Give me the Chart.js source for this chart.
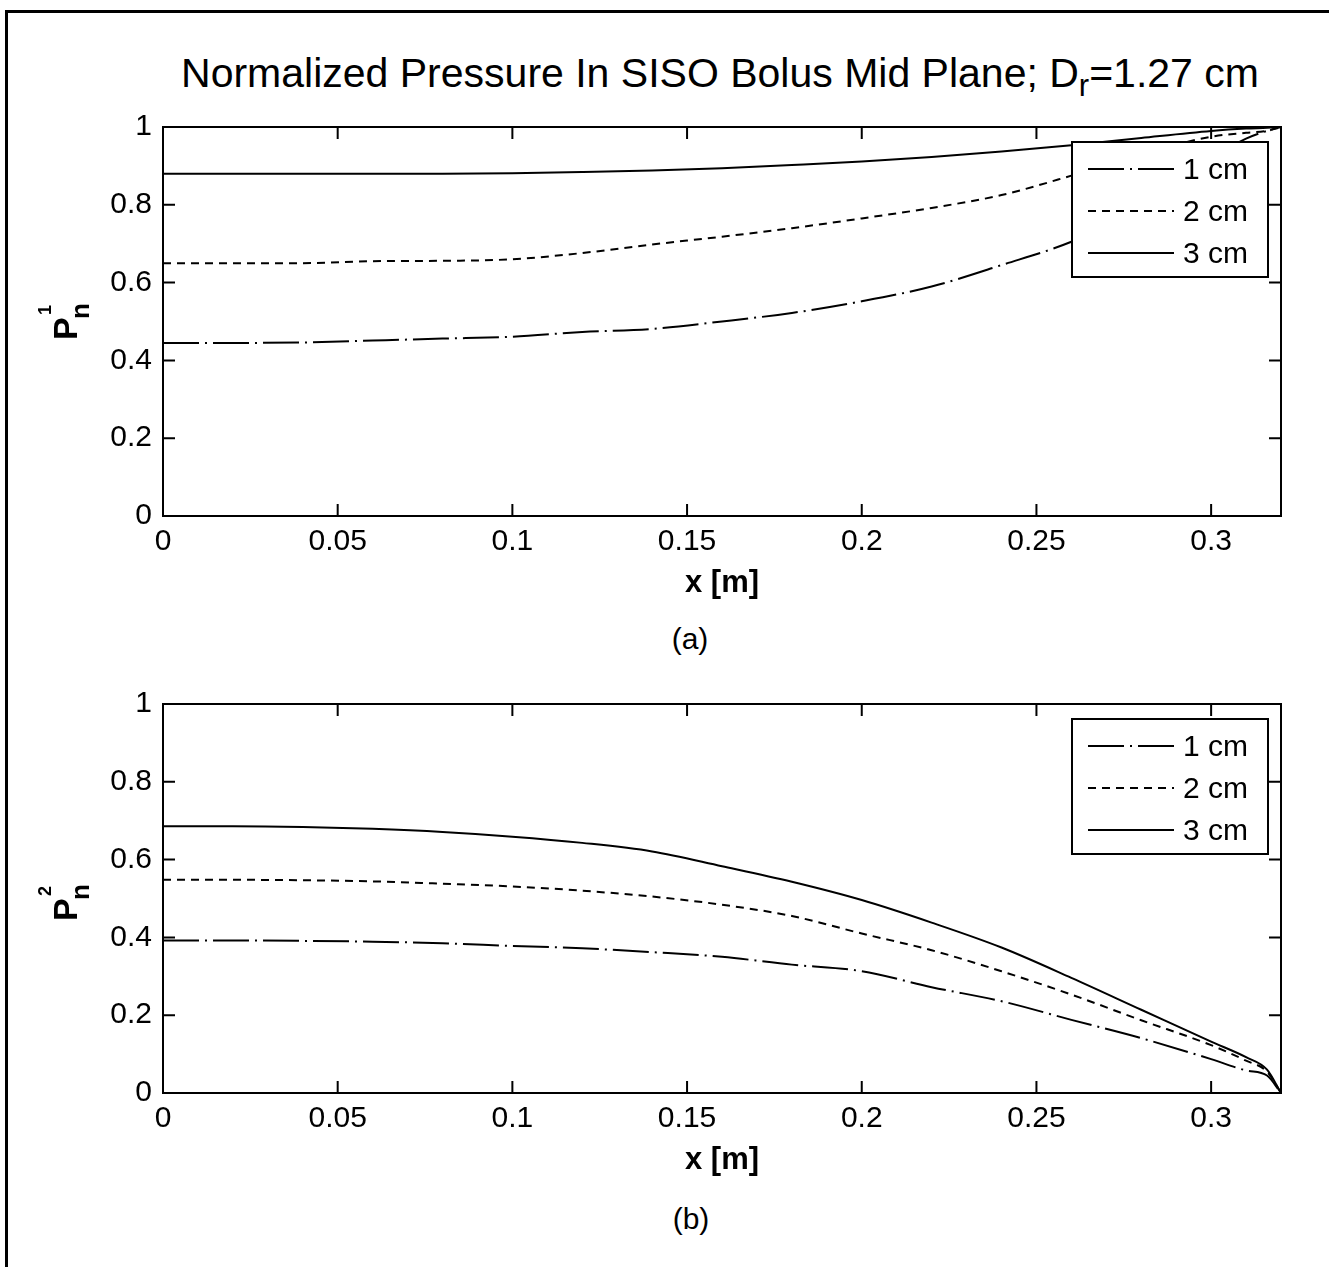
<!DOCTYPE html>
<html>
<head>
<meta charset="utf-8">
<script src="https://cdn.jsdelivr.net/npm/chart.js@4.4.0/dist/chart.umd.min.js"></script>
<style>
  body { margin:0; background:#fff; width:1329px; height:1267px; overflow:hidden; position:relative; font-family:'Liberation Sans', Arial, sans-serif; color:#000; }
  #frame { position:absolute; left:5px; top:10px; width:1400px; height:1320px; border-top:3px solid #000; border-left:3px solid #000; }
  canvas { position:absolute; left:0; }
  #title { position:absolute; left:720px; top:53px; transform:translateX(-50%); font-size:41px; line-height:41px; white-space:nowrap; }
  #title sub { font-size:31px; vertical-align:-9px; line-height:0; }
  .cap { position:absolute; font-size:30px; line-height:30px; transform:translateX(-50%); }
  .ylab { position:absolute; width:36px; height:54px; transform:translate(-50%,-50%) rotate(-90deg); font-weight:bold; }
  .ylab span { position:absolute; white-space:nowrap; }
  .ylab .p { left:0; top:10px; font-size:34px; line-height:34px; }
  .ylab .sup { left:25px; top:-2px; font-size:18px; line-height:18px; }
  .ylab .sub { left:21px; top:29px; font-size:26px; line-height:26px; }
</style>
</head>
<body>
<div id="frame"></div>
<div id="title">Normalized Pressure In SISO Bolus Mid Plane; D<sub>r</sub>=1.27 cm</div>
<canvas id="chartA" width="1329" height="504" style="top:98px"></canvas>
<div class="cap" style="left:690px; top:624px">(a)</div>
<div class="ylab" style="left:65px; top:322px"><span class="p">P</span><span class="sup">1</span><span class="sub">n</span></div>
<canvas id="chartB" width="1329" height="504" style="top:675px"></canvas>
<div class="cap" style="left:691px; top:1204px">(b)</div>
<div class="ylab" style="left:65px; top:903px"><span class="p">P</span><span class="sup">2</span><span class="sub">n</span></div>
<script>
// values
var xValues = [0, 0.02, 0.04, 0.06, 0.08, 0.1, 0.12, 0.14, 0.16, 0.18, 0.2, 0.22, 0.24, 0.26, 0.28, 0.3, 0.31, 0.316, 0.32];
var seriesLabels = ["1 cm", "2 cm", "3 cm"];

// (a) P_n^1
var top1cm = [0.445, 0.445, 0.446, 0.451, 0.456, 0.461, 0.473, 0.481, 0.500, 0.522, 0.552, 0.590, 0.645, 0.705, 0.790, 0.920, 0.970, 0.990, 1.000];
var top2cm = [0.650, 0.650, 0.650, 0.655, 0.656, 0.660, 0.676, 0.698, 0.718, 0.740, 0.765, 0.792, 0.825, 0.875, 0.930, 0.975, 0.985, 0.990, 1.000];
var top3cm = [0.880, 0.880, 0.880, 0.880, 0.880, 0.881, 0.884, 0.888, 0.894, 0.902, 0.911, 0.923, 0.937, 0.953, 0.972, 0.990, 0.996, 0.998, 1.000];

// (b) P_n^2
var bot1cm = [0.392, 0.392, 0.391, 0.389, 0.385, 0.378, 0.372, 0.362, 0.350, 0.330, 0.313, 0.272, 0.236, 0.188, 0.141, 0.087, 0.058, 0.045, 0.000];
var bot2cm = [0.548, 0.548, 0.547, 0.544, 0.538, 0.531, 0.520, 0.505, 0.484, 0.455, 0.410, 0.367, 0.313, 0.253, 0.187, 0.123, 0.083, 0.055, 0.000];
var bot3cm = [0.686, 0.686, 0.684, 0.679, 0.671, 0.659, 0.643, 0.621, 0.583, 0.543, 0.496, 0.438, 0.374, 0.296, 0.214, 0.132, 0.092, 0.060, 0.000];

var xTicks = [0, 0.05, 0.1, 0.15, 0.2, 0.25, 0.3];
var xTickLabels = ["0", "0.05", "0.1", "0.15", "0.2", "0.25", "0.3"];
var yTicks = [0, 0.2, 0.4, 0.6, 0.8, 1];
var yTickLabels = ["0", "0.2", "0.4", "0.6", "0.8", "1"];

var dashes = [[36, 6, 2, 6], [8, 6], []];
var FONT = "'Liberation Sans', Arial, sans-serif";

Chart.defaults.font.family = FONT;
Chart.defaults.color = "#000";

// matlab style box: frame, inward ticks, boxed legend in the corner
var matlabBox = {
  id: "matlabBox",
  afterDatasetsDraw: function(chart) {
    var ctx = chart.ctx, a = chart.chartArea;
    var sx = chart.scales.x, sy = chart.scales.y;
    ctx.save();
    ctx.setLineDash([]);
    ctx.strokeStyle = "#000";
    ctx.lineWidth = 2;
    ctx.strokeRect(a.left, a.top, a.right - a.left, a.bottom - a.top);
    ctx.beginPath();
    sx.ticks.forEach(function(t) {
      var px = sx.getPixelForValue(t.value);
      ctx.moveTo(px, a.bottom); ctx.lineTo(px, a.bottom - 12);
      ctx.moveTo(px, a.top); ctx.lineTo(px, a.top + 12);
    });
    sy.ticks.forEach(function(t) {
      var py = sy.getPixelForValue(t.value);
      ctx.moveTo(a.left, py); ctx.lineTo(a.left + 12, py);
      ctx.moveTo(a.right, py); ctx.lineTo(a.right - 12, py);
    });
    ctx.stroke();

    // legend
    var bw = 196, bh = 135;
    var bx = a.right - 13 - bw, by = a.top + 15;
    ctx.fillStyle = "#fff";
    ctx.fillRect(bx, by, bw, bh);
    ctx.strokeRect(bx, by, bw, bh);
    ctx.font = "30px " + FONT;
    ctx.textBaseline = "middle";
    ctx.textAlign = "left";
    chart.data.datasets.forEach(function(ds, i) {
      var ly = by + 27 + 42 * i;
      ctx.beginPath();
      ctx.setLineDash(ds.borderDash);
      ctx.lineWidth = 2;
      ctx.moveTo(bx + 16, ly); ctx.lineTo(bx + 102, ly);
      ctx.stroke();
      ctx.fillStyle = "#000";
      ctx.fillText(ds.label, bx + 111, ly + 2);
    });
    ctx.restore();
  }
};

function makeChart(id, series) {
  var datasets = [];
  for (var s = 0; s < series.length; s++) {
    var pts = [];
    for (var i = 0; i < xValues.length; i++) {
      pts.push({x: xValues[i], y: series[s][i]});
    }
    datasets.push({
      label: seriesLabels[s],
      data: pts,
      borderColor: "#000",
      borderWidth: 2,
      borderDash: dashes[s],
      pointRadius: 0,
      fill: false,
      cubicInterpolationMode: "monotone"
    });
  }
  return new Chart(document.getElementById(id).getContext("2d"), {
    type: "line",
    data: {datasets: datasets},
    options: {
      responsive: false,
      animation: false,
      devicePixelRatio: 1,
      layout: {padding: {left: 63, right: 48, top: 29, bottom: 0}},
      plugins: {legend: {display: false}, tooltip: {enabled: false}},
      scales: {
        x: {
          type: "linear", min: 0, max: 0.32,
          grid: {display: false, drawTicks: false},
          border: {display: false},
          afterBuildTicks: function(sc) { sc.ticks = xTicks.map(function(v) { return {value: v}; }); },
          afterFit: function(sc) { sc.height = 86; },
          ticks: {
            padding: 8, maxRotation: 0, autoSkip: false,
            font: {size: 30},
            callback: function(v, i) { return xTickLabels[i]; }
          },
          title: {display: true, text: "x [m]", padding: 0, font: {size: 31, weight: "bold"}}
        },
        y: {
          min: 0, max: 1,
          grid: {display: false, drawTicks: false},
          border: {display: false},
          afterBuildTicks: function(sc) { sc.ticks = yTicks.map(function(v) { return {value: v}; }); },
          afterFit: function(sc) { sc.width = 100; },
          ticks: {
            padding: 11, autoSkip: false,
            font: {size: 30},
            callback: function(v, i) { return yTickLabels[i]; }
          }
        }
      }
    },
    plugins: [matlabBox]
  });
}

makeChart("chartA", [top1cm, top2cm, top3cm]);
makeChart("chartB", [bot1cm, bot2cm, bot3cm]);
</script>
</body>
</html>
